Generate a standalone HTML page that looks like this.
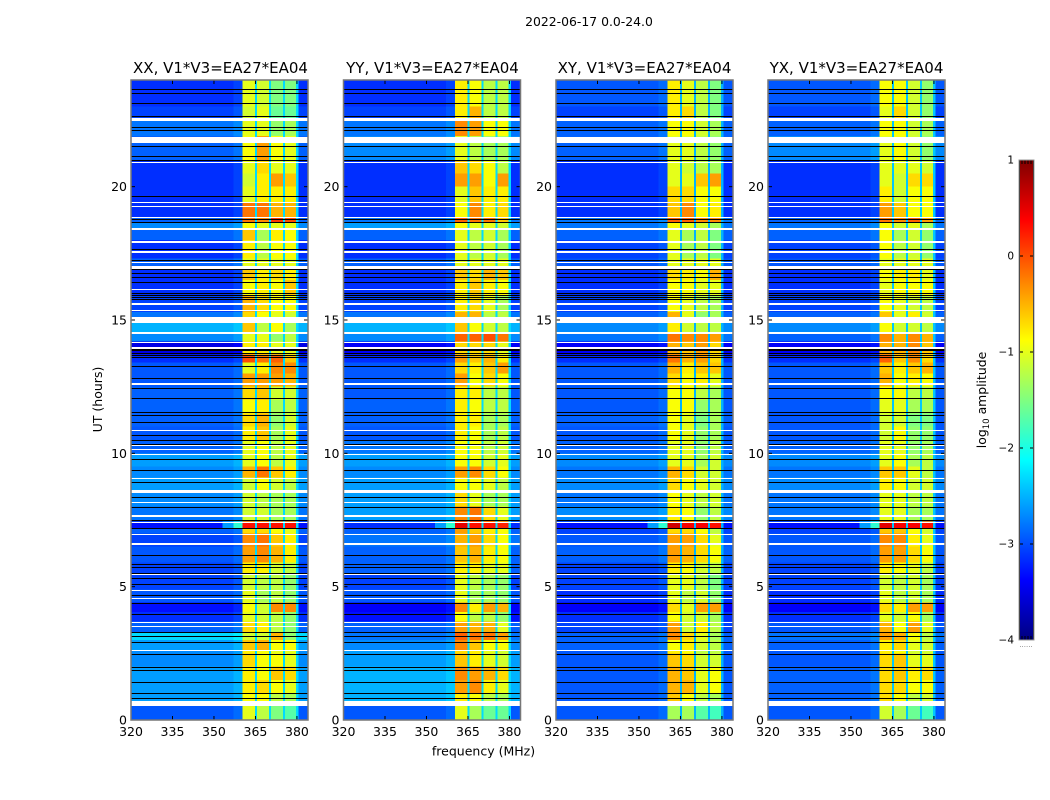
<!DOCTYPE html>
<html lang="en">
<head>
<meta charset="utf-8">
<title>2022-06-17 0.0-24.0</title>
<style>
html,body{margin:0;padding:0;background:#fff;}
svg{display:block;font-family:"DejaVu Sans","Liberation Sans",sans-serif;fill:#000;}
</style>
</head>
<body>
<svg id="figure" width="1050" height="800" viewBox="0 0 1050 800" xmlns="http://www.w3.org/2000/svg">
  <defs>
    <linearGradient id="jet-gradient" x1="0" y1="1" x2="0" y2="0"></linearGradient>
  </defs>
  <rect x="0" y="0" width="1050" height="800" fill="#fff"/>
  <text x="589" y="26" font-size="12.4" text-anchor="middle">2022-06-17 0.0-24.0</text>
  <g id="panel-0"></g>
  <g id="panel-1"></g>
  <g id="panel-2"></g>
  <g id="panel-3"></g>
  <text x="220.5" y="73" font-size="15" text-anchor="middle">XX, V1*V3=EA27*EA04</text>
  <text x="432.5" y="73" font-size="15" text-anchor="middle">YY, V1*V3=EA27*EA04</text>
  <text x="644.5" y="73" font-size="15" text-anchor="middle">XY, V1*V3=EA27*EA04</text>
  <text x="856.5" y="73" font-size="15" text-anchor="middle">YX, V1*V3=EA27*EA04</text>
  <text transform="translate(102,399.5) rotate(-90)" font-size="12.5" text-anchor="middle">UT (hours)</text>
  <text x="483.5" y="755.5" font-size="12.5" text-anchor="middle">frequency (MHz)</text>
  <g id="colorbar"></g>
  <text transform="translate(986,400) rotate(-90)" font-size="12.4" text-anchor="middle">log<tspan font-size="8.6" dy="3">10</tspan><tspan dy="-3"> amplitude</tspan></text>
</svg>
<script>
const hourEdges = [0,.52,.71,1,1.5,2,2.5,2.6,3,3.3,3.7,4.05,4.4,4.9,5.5,5.9,6.5,7,7.2,7.45,8,8.55,9.1,9.5,10,10.5,11,11.5,12,12.5,13,13.4,13.7,14.2,14.5,14.9,15.3,15.9,16.5,17,17.3,18,18.4,18.65,18.85,19.4,20,20.5,21,21.9,22.5,23,24];
const freqEdges = [320,353,357,360.4,364.8,365.6,369.9,370.7,374.9,375.7,379.7,380.5,384];
const freqSource = [0,0,0,1,-1,2,-1,3,-1,4,-1,0];
const freqOffset = [0,0,0.1,0,0,0,0,0,0,0,0,0];
const notchLevels = [-2.3,-2.3,-2.5,-2.4];
const glowRows = [18];
const glowLevels = [-2.6,-1.9];
const xTicks = [320,335,350,365,380];
const yTicks = [0,5,10,15,20];
const colorbarTicks = [1,0,-1,-2,-3,-4];
const colorbarLabels = ['1','0','\u22121','\u22122','\u22123','\u22124'];
const blankRanges = [[.525,.71],[2.57,2.62],[3.47,3.51],[3.65,3.69],[4.55,4.59],[4.85,4.89],[5.45,5.49],[6.58,6.62],[6.95,6.99],[7.40,7.44],[7.63,7.67],[8.12,8.16],[8.53,8.61],[9.05,9.09],[9.95,9.99],[10.14,10.18],[10.29,10.33],[10.85,10.89],[12.58,12.62],[13.93,13.97],[14.15,14.19],[14.46,14.56],[14.89,15.11],[15.32,15.36],[15.58,15.62],[16.14,16.18],[16.93,16.97],[17.0,17.04],[17.12,17.16],[17.53,17.57],[17.87,17.91],[17.94,17.98],[18.37,18.45],[18.84,18.88],[19.22,19.26],[19.37,19.41],[20.90,20.94],[21.63,21.86],[22.48,22.52],[22.55,22.59]];
const flaggedHours = [.82,1.01,1.42,1.87,1.99,2.47,2.92,3.15,3.3,3.97,4.39,4.69,5.1,5.32,5.51,5.74,5.85,6.19,7.2,7.5,7.99,8.36,8.92,9.37,9.79,10.35,10.5,10.69,11.17,11.44,11.55,12.07,12.45,12.82,13.27,13.61,13.7,13.78,13.87,13.92,15.79,15.86,15.94,16.01,16.42,16.61,16.76,16.91,17.25,17.66,18.67,18.79,19.65,21,21.15,21.52,22.12,22.24,22.65,23.14,23.51,23.66];

const xxLevels = [
[-2.95,-1.0,-1.2,-1.5,-1.7],[-2.95,-1.0,-1.2,-1.5,-1.7],[-2.6,-0.9,-0.9,-1.2,-1.3],[-2.6,-0.8,-0.7,-0.9,-1.0],[-2.6,-0.8,-0.9,-0.6,-0.7],
[-2.7,-0.7,-0.9,-0.9,-1.0],[-2.7,-0.8,-0.9,-1.0,-1.0],[-2.6,-0.6,-0.5,-0.9,-0.9],[-2.3,-1.1,-1.1,-0.5,-1.4],[-2.9,-0.7,-0.8,-1.2,-1.4],
[-3.15,-1.0,-1.1,-1.2,-1.4],[-3.3,-0.9,-1.1,-0.3,-0.3],[-2.95,-1.0,-1.3,-1.2,-1.4],[-3.05,-1.1,-1.2,-1.2,-1.4],[-3.05,-0.8,-0.8,-1.1,-1.2],
[-2.95,-0.4,-0.3,-0.5,-0.8],[-3.05,-0.3,-0.2,-0.6,-0.8],[-2.9,-0.7,-0.7,-0.9,-1.0],[-3.3,0.3,0.3,0.3,0.3],[-2.8,-1.1,-1.1,-1.3,-1.3],
[-2.7,-1.1,-1.2,-1.3,-1.3],[-2.6,-1.1,-0.9,-1.1,-1.2],[-2.7,-0.5,-0.2,-0.6,-0.8],[-2.6,-1.0,-0.9,-1.2,-1.0],[-2.9,-1.0,-0.9,-1.2,-1.0],
[-2.95,-0.8,-0.6,-1.3,-1.0],[-2.9,-0.7,-0.5,-1.4,-1.1],[-2.9,-0.9,-0.8,-1.3,-1.2],[-2.9,-0.7,-0.6,-1.1,-1.1],[-2.95,-0.4,-0.4,-0.4,-0.5],
[-2.95,-1.0,-0.8,-0.3,-0.3],[-3.15,0.0,-0.2,-0.1,-0.6],[-3.5,-0.8,-0.8,-1.0,-1.0],[-2.7,-1.0,-1.0,-1.4,-1.2],[-2.5,-0.6,-1.2,-0.9,-1.3],
[-2.8,-0.7,-0.9,-1.0,-1.1],[-3.05,-0.5,-0.7,-0.9,-0.9],[-3.15,-0.9,-0.8,-0.9,-0.6],[-3.15,-0.6,-0.8,-0.7,-0.8],[-2.9,-1.0,-1.0,-1.0,-1.0],
[-3.15,-0.8,-1.2,-0.9,-0.9],[-2.9,-0.6,-1.3,-0.8,-0.9],[-2.7,-0.9,-1.0,-1.0,-1.0],[-2.9,-0.2,-0.3,0.1,0.0],[-3.15,-0.2,-0.2,-0.5,-0.5],
[-3.15,-1.0,-0.8,-0.8,-0.8],[-3.15,-1.1,-0.8,-0.4,-0.6],[-3.15,-1.0,-0.7,-1.0,-1.0],[-2.9,-0.9,-0.4,-0.9,-1.0],[-2.8,-1.0,-1.0,-1.4,-1.3],
[-3.05,-1.1,-1.0,-1.6,-1.6],[-3.15,-1.0,-1.1,-1.5,-1.5]
];
const yyLevels = [
[-2.95,-1.0,-1.3,-1.6,-1.6],[-2.95,-1.0,-1.3,-1.6,-1.6],[-2.5,-0.8,-0.9,-1.2,-1.3],[-2.5,-0.4,-0.3,-0.8,-1.0],[-2.5,-0.3,-0.4,-0.5,-0.7],
[-2.6,-0.6,-0.8,-1.0,-1.1],[-2.6,-0.7,-0.8,-1.0,-1.1],[-2.7,-0.3,-0.6,-0.9,-0.9],[-2.8,-0.1,-0.2,-0.2,-0.4],[-2.9,-0.4,-0.5,-0.5,-1.0],
[-3.3,-0.9,-1.2,-1.2,-1.4],[-3.4,-0.3,-0.8,-0.4,-0.5],[-2.95,-1.0,-1.3,-1.3,-1.4],[-3.05,-1.0,-1.2,-1.3,-1.4],[-2.9,-0.8,-0.8,-1.0,-1.0],
[-2.9,-0.6,-0.5,-0.8,-0.9],[-2.8,-0.5,-0.4,-0.7,-0.9],[-2.9,-0.4,-0.6,-0.8,-0.9],[-3.15,0.5,0.3,0.3,0.2],[-2.6,-0.3,-0.2,-0.7,-1.0],
[-2.6,-0.7,-1.0,-1.3,-1.3],[-2.6,-0.9,-0.9,-1.0,-1.2],[-2.7,-0.4,-0.3,-0.7,-0.9],[-2.6,-0.9,-0.9,-1.1,-1.0],[-2.8,-0.9,-0.9,-1.2,-1.1],
[-2.95,-0.8,-0.9,-1.3,-1.2],[-2.9,-0.8,-0.8,-1.3,-1.3],[-2.9,-0.8,-0.9,-1.2,-1.2],[-2.95,-0.8,-0.8,-1.2,-1.2],[-2.95,-0.4,-0.9,-0.7,-0.9],
[-2.95,-0.7,-0.8,-0.6,-0.4],[-3.15,-0.4,-0.6,-0.5,-0.8],[-3.4,-0.7,-0.7,-0.7,-1.0],[-2.7,-0.1,-0.1,0.0,-0.2],[-2.5,-0.6,-0.9,-1.1,-1.2],
[-2.8,-0.5,-0.5,-1.2,-1.2],[-3.05,-0.8,-0.7,-1.0,-1.3],[-3.15,-0.8,-0.6,-0.8,-0.9],[-3.15,-0.6,-0.7,-0.5,-0.6],[-2.9,-1.0,-1.0,-1.0,-1.0],
[-3.15,-1.0,-1.2,-1.1,-1.3],[-2.9,-1.0,-1.2,-1.1,-1.3],[-2.6,-0.9,-1.0,-1.0,-1.1],[-2.8,-0.1,-0.2,-0.2,-0.6],[-3.15,-0.9,-0.3,-0.8,-0.7],
[-3.15,-1.0,-0.6,-0.8,-0.8],[-3.15,-0.4,-0.4,-0.9,-0.4],[-3.15,-0.6,-0.7,-0.9,-1.2],[-2.7,-1.0,-1.2,-1.3,-1.3],[-2.8,-0.3,-0.4,-0.9,-0.9],
[-3.05,-0.8,-0.5,-1.2,-1.2],[-3.15,-0.8,-0.9,-1.2,-1.2]
];
const xyLevels = [
[-2.95,-1.3,-1.3,-1.7,-1.8],[-2.95,-1.3,-1.3,-1.7,-1.8],[-2.95,-0.6,-0.9,-1.2,-1.3],[-2.95,-0.5,-0.5,-1.0,-0.9],[-2.95,-0.5,-0.6,-1.0,-0.9],
[-2.95,-0.6,-0.7,-1.1,-1.1],[-2.95,-0.8,-0.9,-1.2,-1.2],[-2.9,-0.9,-0.8,-1.1,-1.2],[-2.9,-0.3,-0.7,-1.0,-1.3],[-3.05,-0.4,-1.1,-0.8,-1.2],
[-3.15,-0.9,-1.1,-1.1,-1.3],[-3.4,-0.7,-1.0,-0.4,-0.4],[-3.15,-1.0,-1.2,-1.1,-1.4],[-3.05,-1.0,-1.0,-1.2,-1.5],[-3.05,-0.8,-0.9,-1.1,-1.2],
[-2.9,-0.4,-0.5,-0.7,-0.9],[-2.95,-0.4,-0.4,-0.7,-1.0],[-3.05,-0.7,-0.7,-0.9,-1.2],[-3.3,0.6,0.4,0.4,0.3],[-2.7,-0.8,-0.9,-1.4,-1.2],
[-2.8,-0.9,-1.0,-1.2,-1.1],[-2.7,-0.7,-0.9,-1.0,-1.1],[-2.8,-0.5,-0.7,-1.1,-1.1],[-2.7,-1.0,-1.0,-1.3,-1.1],[-2.9,-1.0,-1.0,-1.4,-1.2],
[-2.95,-0.9,-1.0,-1.4,-1.3],[-2.9,-0.9,-1.0,-1.5,-1.3],[-2.95,-0.9,-0.9,-1.4,-1.3],[-2.95,-0.9,-0.9,-1.2,-1.3],[-2.95,-0.7,-0.9,-0.8,-1.0],
[-2.95,-0.5,-0.8,-0.6,-0.6],[-3.15,-0.2,-0.5,-0.4,-0.7],[-3.4,-0.5,-0.6,-0.4,-0.7],[-2.8,-0.2,-0.3,-0.3,-0.4],[-2.7,-0.8,-1.1,-1.2,-1.2],
[-2.9,-0.5,-1.0,-1.4,-1.3],[-3.05,-0.9,-1.0,-1.2,-1.3],[-3.15,-0.9,-0.9,-1.0,-1.0],[-3.15,-0.7,-0.8,-0.9,-0.5],[-2.95,-1.0,-1.0,-1.0,-1.0],
[-3.05,-1.0,-1.3,-1.2,-1.5],[-2.9,-1.0,-1.3,-1.2,-1.5],[-2.8,-0.9,-1.0,-1.1,-1.3],[-2.8,-0.1,-0.1,-0.3,-0.3],[-3.15,-0.6,-0.3,-0.9,-0.8],
[-3.15,-0.7,-0.7,-0.9,-0.9],[-3.15,-1.0,-1.0,-0.6,-0.4],[-3.15,-1.0,-1.1,-1.2,-1.3],[-2.9,-1.0,-1.0,-1.2,-1.4],[-2.9,-0.9,-0.9,-1.1,-1.3],
[-3.05,-0.8,-0.7,-1.2,-1.5],[-2.95,-0.8,-1.0,-1.2,-1.5]
];
const yxLevels = [
[-2.95,-1.1,-1.3,-1.6,-1.8],[-2.95,-1.1,-1.3,-1.6,-1.8],[-2.9,-0.7,-0.9,-1.2,-1.1],[-2.9,-0.7,-0.7,-0.9,-0.9],[-2.9,-0.7,-0.6,-0.8,-0.7],
[-2.95,-0.7,-0.6,-1.0,-1.0],[-2.95,-0.8,-0.9,-1.1,-1.1],[-2.9,-0.8,-0.7,-1.0,-1.1],[-2.8,-0.4,-0.5,-0.9,-1.2],[-2.95,-0.5,-0.9,-0.4,-1.0],
[-3.15,-1.0,-1.1,-0.9,-1.3],[-3.4,-0.7,-0.8,-0.4,-0.4],[-3.15,-1.0,-1.2,-1.1,-1.3],[-3.05,-1.1,-1.2,-1.1,-1.3],[-3.05,-0.8,-0.9,-1.0,-1.2],
[-2.95,-0.4,-0.4,-0.7,-0.9],[-2.95,-0.3,-0.3,-0.8,-1.0],[-3.05,-0.6,-0.6,-0.9,-1.1],[-3.3,0.5,0.4,0.4,0.3],[-2.8,-1.0,-1.0,-1.3,-1.3],
[-2.8,-1.0,-1.0,-1.2,-1.2],[-2.7,-0.8,-0.9,-1.1,-1.1],[-2.8,-0.6,-0.6,-1.0,-1.2],[-2.7,-1.0,-0.9,-1.3,-1.2],[-2.9,-1.0,-1.0,-1.4,-1.3],
[-2.95,-1.1,-0.9,-1.4,-1.4],[-2.95,-1.1,-1.1,-1.5,-1.5],[-2.95,-1.0,-1.0,-1.3,-1.3],[-2.95,-0.9,-0.9,-1.2,-1.2],[-2.95,-0.5,-0.9,-0.8,-0.9],
[-2.95,-0.6,-0.8,-0.6,-0.5],[-3.15,-0.1,-0.6,-0.3,-0.7],[-3.4,-0.5,-0.5,-0.3,-0.6],[-2.9,-0.3,-0.5,-0.3,-0.5],[-2.7,-0.9,-1.1,-1.1,-1.2],
[-2.9,-0.6,-1.0,-0.8,-1.1],[-3.05,-0.9,-1.0,-1.1,-1.2],[-3.15,-1.0,-0.9,-0.9,-0.9],[-3.15,-0.9,-0.8,-0.8,-1.0],[-2.95,-1.0,-1.0,-1.0,-1.0],
[-3.05,-0.9,-1.2,-1.1,-1.4],[-2.9,-0.9,-1.3,-1.1,-1.4],[-2.8,-0.9,-1.1,-1.0,-1.3],[-2.9,-0.2,-0.3,-0.1,-0.4],[-3.15,-0.4,-0.6,-0.9,-0.9],
[-3.15,-0.8,-1.1,-0.9,-0.9],[-3.15,-1.0,-1.1,-0.7,-0.7],[-3.15,-1.0,-1.0,-1.0,-1.1],[-2.7,-1.0,-0.9,-1.1,-1.4],[-2.9,-0.9,-0.9,-1.1,-1.3],
[-3.05,-1.0,-0.7,-1.1,-1.4],[-2.95,-0.9,-0.9,-1.1,-1.4]
];
const panelLevels = [xxLevels, yyLevels, xyLevels, yxLevels];
const panelLefts = [131, 343.5, 556, 768];
const panelNames = ['xx', 'yy', 'xy', 'yx'];

const SVG_NS = 'http://www.w3.org/2000/svg';
const axisWidth = 177, axisTop = 80, axisBottom = 720, freqMin = 320, freqMax = 384, hourMin = 0, hourMax = 24;
const colorMin = -4, colorMax = 1;
const cbLeft = 1019, cbWidth = 15, cbTop = 160, cbBottom = 640;

function xScale(left, mhz) { return left + (mhz - freqMin) / (freqMax - freqMin) * axisWidth; }
function yScale(hour) { return axisBottom - (hour - hourMin) / (hourMax - hourMin) * (axisBottom - axisTop); }
function cbScale(v) { return cbBottom - (v - colorMin) / (colorMax - colorMin) * (cbBottom - cbTop); }
function clamp01(v) { return Math.max(0, Math.min(1, v)); }
function jet(v) {
  const t = clamp01((v - colorMin) / (colorMax - colorMin));
  const r = clamp01(Math.min(4 * t - 1.5, -4 * t + 4.5));
  const g = clamp01(Math.min(4 * t - 0.5, -4 * t + 3.5));
  const b = clamp01(Math.min(4 * t + 0.5, -4 * t + 2.5));
  return 'rgb(' + Math.round(r * 255) + ',' + Math.round(g * 255) + ',' + Math.round(b * 255) + ')';
}
function make(tag, parent, props) {
  const el = document.createElementNS(SVG_NS, tag);
  for (const k in props) el.setAttribute(k, props[k]);
  parent.appendChild(el);
  return el;
}
function drawTickMark(parent, name, x1, y1, x2, y2) {
  const el = make('line', parent, {x1: x1, y1: y1, x2: x2, y2: y2, stroke: '#000', 'stroke-width': 1});
  
  
}
function drawLabel(parent, name, text, x, y, size, anchor) {
  const el = make('text', parent, {x: x, y: y, 'font-size': size, 'text-anchor': anchor});
  el.textContent = text;
  
  
}
function cellValue(row, r, c, p) {
  const src = freqSource[c];
  if (src < 0) return notchLevels[p];
  if (glowRows.indexOf(r) >= 0 && c >= 1 && c <= 2) return glowLevels[c - 1];
  return row[src] + freqOffset[c];
}

panelLevels.forEach(function (levels, p) {
  const g = document.getElementById('panel-' + p);
  const left = panelLefts[p];
  const name = panelNames[p];
  levels.forEach(function (row, r) {
    const yTop = yScale(hourEdges[r + 1]);
    const yBot = yScale(hourEdges[r]);
    freqSource.forEach(function (src, c) {
      const x0 = xScale(left, freqEdges[c]);
      const x1 = xScale(left, freqEdges[c + 1]);
      const cell = make('rect', g, {x: x0, y: yTop, width: x1 - x0, height: yBot - yTop, fill: jet(cellValue(row, r, c, p)), 'shape-rendering': 'crispEdges'});
      
      
    });
  });
  blankRanges.forEach(function (range) {
    const y0 = Math.round(yScale(range[1]));
    const y1 = Math.round(yScale(range[0]));
    const gap = make('rect', g, {x: left, y: y0, width: axisWidth, height: Math.max(1, y1 - y0), fill: '#fff', 'shape-rendering': 'crispEdges'});
    
    
  });
  flaggedHours.forEach(function (hour) {
    const y = Math.round(yScale(hour)) + 0.5;
    const line = make('line', g, {x1: left, x2: left + axisWidth, y1: y, y2: y, stroke: '#000', 'stroke-width': 1, 'shape-rendering': 'crispEdges'});
    
    
  });
  xTicks.forEach(function (tick) {
    const x = xScale(left, tick);
    drawTickMark(g, 'x-tick', x, axisBottom, x, axisBottom - 4);
    drawTickMark(g, 'x-tick-top', x, axisTop, x, axisTop + 4);
    drawLabel(g, 'x-tick-label', String(tick), x, axisBottom + 16, 12.5, 'middle');
  });
  yTicks.forEach(function (tick) {
    const y = yScale(tick);
    drawTickMark(g, 'y-tick', left, y, left + 4, y);
    drawTickMark(g, 'y-tick-right', left + axisWidth, y, left + axisWidth - 4, y);
    drawLabel(g, 'y-tick-label', String(tick), left - 4, y + 4.5, 12.5, 'end');
  });
  const frame = make('rect', g, {x: left, y: axisTop, width: axisWidth, height: axisBottom - axisTop, fill: 'none', stroke: '#777', 'stroke-width': 1.5});
  
  
});

const gradient = document.getElementById('jet-gradient');
const gradientStops = [-4, -3.5, -3.375, -2.75, -2.125, -1.5, -0.875, -0.25, 0.375, 0.5, 1];
gradientStops.forEach(function (v) {
  const stop = make('stop', gradient, {offset: (v - colorMin) / (colorMax - colorMin), 'stop-color': jet(v)});
  
  
});
const cb = document.getElementById('colorbar');
const bar = make('rect', cb, {x: cbLeft, y: cbTop, width: cbWidth, height: cbBottom - cbTop, fill: 'url(#jet-gradient)'});


const cbSideLeft = make('line', cb, {x1: cbLeft + 0.5, x2: cbLeft + 0.5, y1: cbTop, y2: cbBottom, stroke: '#000'});


const cbSideRight = make('line', cb, {x1: cbLeft + cbWidth - 0.5, x2: cbLeft + cbWidth - 0.5, y1: cbTop, y2: cbBottom, stroke: '#000'});


colorbarTicks.forEach(function (tick, i) {
  const y = cbScale(tick);
  drawTickMark(cb, 'colorbar-tick', cbLeft, y, cbLeft + 4, y);
  drawTickMark(cb, 'colorbar-tick-right', cbLeft + cbWidth, y, cbLeft + cbWidth - 4, y);
  drawLabel(cb, 'colorbar-tick-label', colorbarLabels[i], cbLeft - 5, y + 3.5, 10.5, 'end');
});
[0.2, 0.4, 0.6, 0.8].forEach(function (fraction) {
  const x = cbLeft + fraction * cbWidth;
  drawTickMark(cb, 'colorbar-minor-tick-top', x, cbTop, x, cbTop + 4);
  drawTickMark(cb, 'colorbar-minor-tick-bottom', x, cbBottom, x, cbBottom - 4);
});
const cbFrame = make('rect', cb, {x: cbLeft, y: cbTop, width: cbWidth, height: cbBottom - cbTop, fill: 'none', stroke: '#999', 'stroke-width': 1});


const cbDots = make('text', cb, {x: 1026, y: 647, 'font-size': 7, 'text-anchor': 'middle', fill: '#777'});
cbDots.textContent = '......';


</script>
</body>
</html>
